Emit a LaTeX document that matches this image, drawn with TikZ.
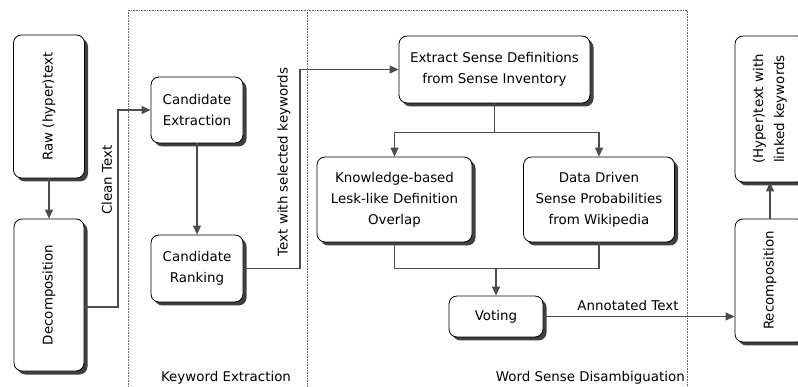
\documentclass[tikz,border=0pt]{standalone}
\usepackage{fontspec}
\setmainfont{DejaVu Sans}
\usetikzlibrary{arrows.meta,shadows,positioning,calc}

\begin{document}
\begin{tikzpicture}[x=1pt,y=-1pt,>={Triangle[length=9pt,width=8pt]},
	box/.style={draw=black,fill=white,rounded corners=8pt,align=center,line width=0.8pt,inner sep=2pt,
		font=\fontsize{13.4}{21}\selectfont,
		drop shadow={shadow xshift=3.5pt,shadow yshift=-3.5pt,fill=black!75,opacity=1}},
	link/.style={draw=black!70,line width=1.2pt},
	lbl/.style={font=\fontsize{13.4}{16}\selectfont,inner sep=1pt},
	area/.style={draw=black!60,densely dotted,line width=0.6pt}]
	
	\useasboundingbox (0,0) rectangle (798,387);
	
	% areas
	\draw[area] (128,10) rectangle (687,400);
	\draw[area] (307,10) -- (307,400);
	\node[lbl](kwlbl) at (226,378) {Keyword Extraction};
	\node[lbl,anchor=east](wsdlbl) at (686,378) {Word Sense Disambiguation};
	
	% boxes
	\node[box,rotate=90,minimum width=143,minimum height=71](raw) at (49,106.5) {Raw (hyper)text};
	\node[box,rotate=90,minimum width=152,minimum height=70](dec) at (49,295) {Decomposition};
	\node[box,minimum width=92,minimum height=66](cext) at (197,110) {Candidate\\Extraction};
	\node[box,minimum width=92,minimum height=67](crank) at (197,268.5) {Candidate\\Ranking};
	\node[box,minimum width=191,minimum height=67](esd) at (494.5,69.5) {Extract Sense Definitions\\from Sense Inventory};
	\node[box,minimum width=155,minimum height=85](know) at (394.5,199.5) {Knowledge-based\\Lesk-like Definition\\Overlap};
	\node[box,minimum width=151,minimum height=85](data) at (599,199.5) {Data Driven\\Sense Probabilities\\from Wikipedia};
	\node[box,minimum width=94,minimum height=41](vot) at (496,316.5) {Voting};
	\node[box,rotate=90,minimum width=123,minimum height=70](rec) at (770,280.5) {Recomposition};
	\node[box,rotate=90,minimum width=146,minimum height=70](hyp) at (770,109) {(Hyper)text with\\linked keywords};
	
	% connectors
	\draw[link,->] (raw) -- (dec);
	\draw[link,->] (dec.south |- 0,307) -- (118,307) |- (cext.west);
	\node[lbl,rotate=90](cleanlbl) at (107,180) {Clean Text};
	
	\draw[link,->] (cext) -- (crank);
	\draw[link,->] (crank.east) -- (crank.east -| 300,0) |- (esd.west);
	\node[lbl,rotate=90](sellbl) at (284,162) {Text with selected keywords};
	
	\draw[link] (esd.south) -- ++(0,29) coordinate (split);
	\draw[link,->] (split) -| (know.north);
	\draw[link,->] (split) -| (data.north);
	
	\draw[link] (know.south) -- ++(0,26) coordinate (merge) -| (data.south);
	\draw[link,->] (merge -| vot.north) -- (vot.north);
	
	\draw[link,->] (vot.east) -- (vot.east -| rec.north);
	\node[lbl](annlbl) at (628,306) {Annotated Text};
	
	\draw[link,->] (rec) -- (hyp);
	
\end{tikzpicture}
\end{document}
